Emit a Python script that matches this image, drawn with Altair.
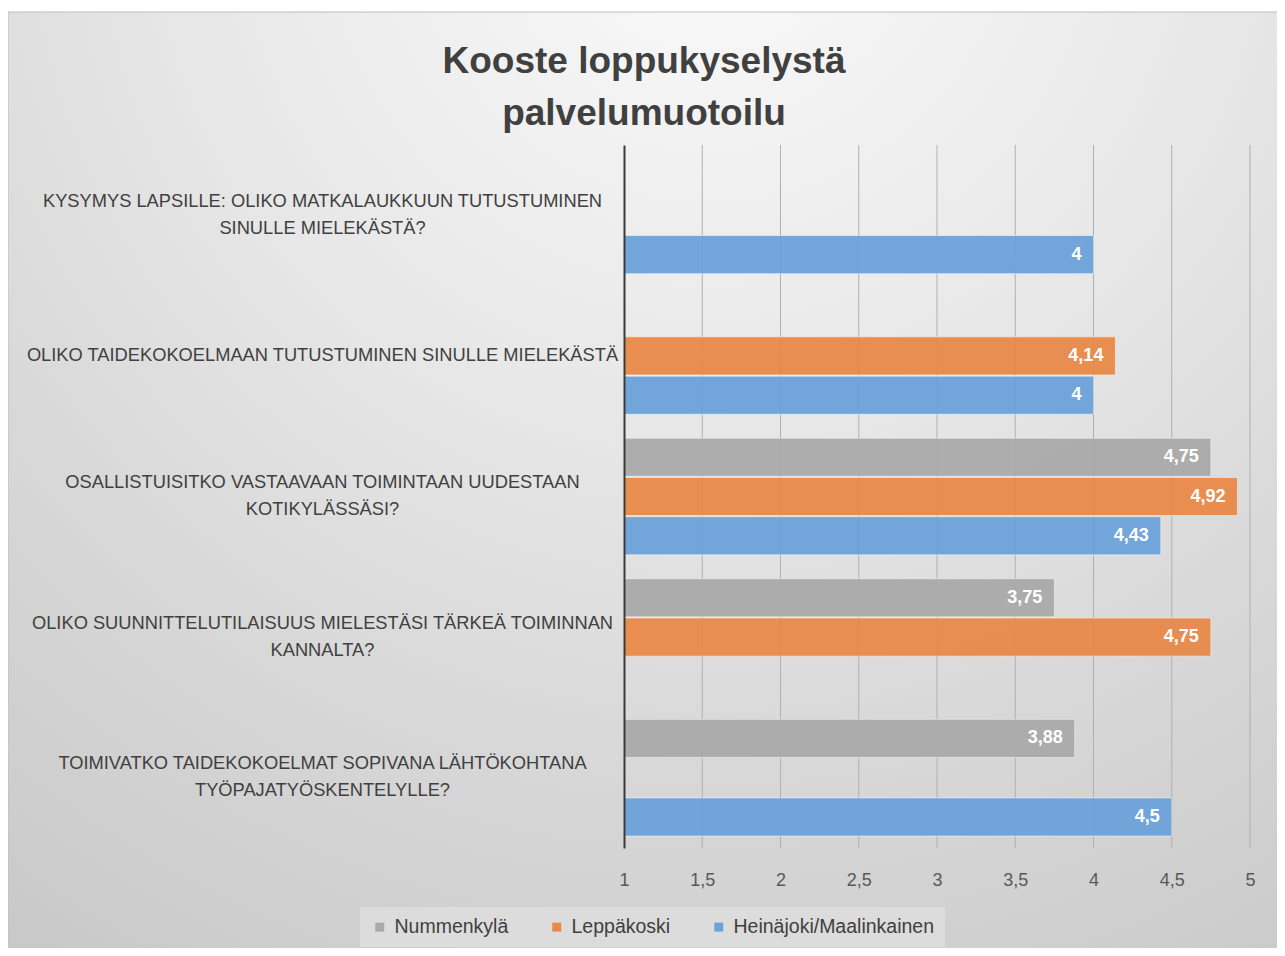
import altair as alt
import pandas as pd

categories = [
    "KYSYMYS LAPSILLE: OLIKO MATKALAUKKUUN TUTUSTUMINEN\nSINULLE MIELEKÄSTÄ?",
    "OLIKO TAIDEKOKOELMAAN TUTUSTUMINEN SINULLE MIELEKÄSTÄ",
    "OSALLISTUISITKO VASTAAVAAN TOIMINTAAN UUDESTAAN\nKOTIKYLÄSSÄSI?",
    "OLIKO SUUNNITTELUTILAISUUS MIELESTÄSI TÄRKEÄ TOIMINNAN\nKANNALTA?",
    "TOIMIVATKO TAIDEKOKOELMAT SOPIVANA LÄHTÖKOHTANA\nTYÖPAJATYÖSKENTELYLLE?",
]
series = ["Nummenkylä", "Leppäkoski", "Heinäjoki/Maalinkainen"]
colors = ["#a9a9a9", "#ea8846", "#6aa2da"]

nummenkyla = [None, None, 4.75, 3.75, 3.88]
leppakoski = [None, 4.14, 4.92, 4.75, None]
heinajoki = [4, 4, 4.43, None, 4.5]

x_ticks = [1, 1.5, 2, 2.5, 3, 3.5, 4, 4.5, 5]
grid_ticks = [1.5, 2, 2.5, 3, 3.5, 4, 4.5, 5]

rows = []
for s, vals in zip(series, [nummenkyla, leppakoski, heinajoki]):
    for c, v in zip(categories, vals):
        if v is not None:
            rows.append({"q": c, "series": s, "value": v})
df = pd.DataFrame(rows)

FONT = "Liberation Sans, Arial, sans-serif"

gradient = {
    "gradient": "radial",
    "x1": 0.55, "y1": 0.04, "r1": 0,
    "x2": 0.55, "y2": 0.04, "r2": 1.1,
    "stops": [
        {"offset": 0, "color": "#fbfbfb"},
        {"offset": 0.4, "color": "#e6e6e6"},
        {"offset": 0.6, "color": "#d9d9d9"},
        {"offset": 1, "color": "#c3c3c3"},
    ],
}

bg = alt.Chart(alt.Data(values=[{"a": 1}])).mark_rect(
    fill=gradient, stroke="#bdbdbd", strokeWidth=1
).encode(
    x=alt.value(-616), x2=alt.value(660), y=alt.value(-133), y2=alt.value(810)
)

xscale = alt.Scale(domain=[1, 5], nice=False, zero=False)
xaxis = alt.Axis(
    title=None,
    values=x_ticks,
    grid=False,
    domain=False,
    ticks=False,
    labelFlush=False,
    labelPadding=23,
    labelFont=FONT,
    labelFontSize=18,
    labelColor="#595959",
    labelExpr="replace(toString(datum.value), '.', ',')",
    zindex=1,
)

grid = alt.Chart(pd.DataFrame({"t": grid_ticks})).mark_rule(
    color="#b0b0b0", strokeWidth=1
).encode(x=alt.X("t:Q", scale=xscale, axis=xaxis))

yaxis = alt.Axis(
    title=None,
    ticks=False,
    labelAlign="center",
    labelPadding=302,
    labelLimit=0,
    labelFont=FONT,
    labelFontSize=18.3,
    labelColor="#404040",
    labelLineHeight=27,
    labelOffset={"condition": {"test": "indexof(datum.value, '\\n') >= 0", "value": -13.5}, "value": 0},
    labelExpr="split(datum.label, '\\n')",
    domainColor="#3a3a3a",
    domainWidth=2,
    zindex=1,
)
yscale = alt.Scale(paddingInner=0.17, paddingOuter=0.085)
yoff = alt.YOffset("series:N", sort=series, scale=alt.Scale(paddingInner=0.03))

bars = alt.Chart(df).mark_bar(
    opacity=0.93, stroke="#ffffff", strokeOpacity=0.5, strokeWidth=1
).encode(
    x=alt.X("value:Q", scale=xscale, axis=xaxis),
    x2=alt.datum(1),
    y=alt.Y("q:N", sort=categories, scale=yscale, axis=yaxis),
    yOffset=yoff,
    color=alt.Color(
        "series:N",
        sort=series,
        scale=alt.Scale(domain=series, range=colors),
        legend=alt.Legend(
            title=None,
            orient="none",
            legendX=-264,
            legendY=762,
            direction="horizontal",
            symbolType="square",
            symbolSize=80,
            symbolOpacity=1,
            symbolStrokeWidth=0,
            labelFont=FONT,
            labelFontSize=19.5,
            labelColor="#404040",
            labelLimit=0,
            labelOffset=5,
            columnPadding=38,
            padding=10,
            fillColor="#dcdcdc",
        ),
    ),
)

labels = alt.Chart(df).transform_calculate(
    lab="replace(toString(datum.value), '.', ',')"
).mark_text(
    align="right", baseline="middle", dx=-12, color="white",
    font=FONT, fontSize=18, fontWeight="bold"
).encode(
    x=alt.X("value:Q", scale=xscale, axis=xaxis),
    y=alt.Y("q:N", sort=categories, scale=yscale, axis=yaxis),
    yOffset=yoff,
    text="lab:N",
)

chart = alt.layer(bg, grid, bars, labels).properties(
    width=626,
    height=703,
    autosize=alt.AutoSizeParams(type="none"),
    padding={"left": 616, "top": 137, "right": 27, "bottom": 100},
    background="white",
    title=alt.TitleParams(
        text=["Kooste loppukyselystä", "palvelumuotoilu"],
        anchor="middle",
        dx=-293,
        offset=-121,
        font=FONT,
        fontSize=37,
        fontWeight="bold",
        color="#404040",
        lineHeight=52,
    ),
).configure_view(stroke=None)

chart.save("out.html", embed_options={"renderer": "svg", "actions": False})
